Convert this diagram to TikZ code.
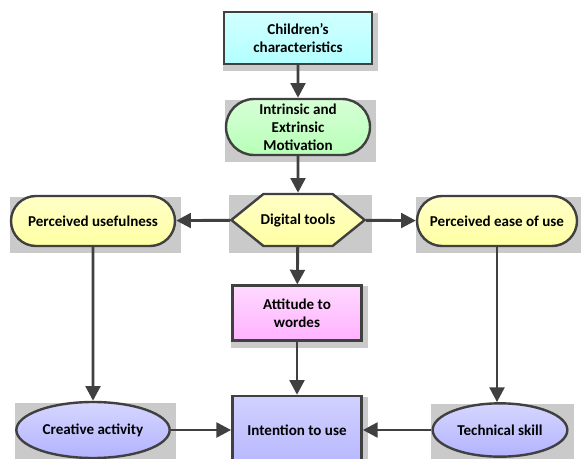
\documentclass[tikz,border=0pt]{standalone}
\usepackage{fontspec}
\setmainfont{Carlito}
\usepackage{tikz}
\usetikzlibrary{
	shapes.misc,
	shapes.symbols,
	shapes.geometric,
	arrows.meta,
	backgrounds}

\definecolor{edgegray}{HTML}{404040}
\definecolor{backgray}{HTML}{CACACA}

\tikzset{
  box/.style={draw=edgegray, line width=1.8pt, align=center,
    font=\fontsize{11.3}{13.6}\selectfont\bfseries, inner sep=2pt},
  procbox/.style={box, rectangle},
  termbox/.style={box, rounded rectangle},
  ovalbox/.style={box, ellipse},
  hexbox/.style={box, signal, signal to=west and east, signal pointer angle=78,
    inner xsep=-5pt},
  link/.style={draw=edgegray, line width=2.2pt,
    -{Triangle[length=11pt,width=11pt]}}
}

% gray backdrop behind a node
\newcommand{\backdrop}[1]{%
  \fill[backgray] ([shift={(0,6)}]#1.west |- #1.south)
    rectangle ([shift={(5,2)}]#1.east |- #1.north);}

\begin{document}
\begin{tikzpicture}[x=0.75pt, y=-0.75pt]
    \useasboundingbox (0,0) rectangle (581,459);

    \node[procbox, minimum width=111pt, minimum height=39pt,
      top color=cyan!18, bottom color=cyan!30] (CC) at (298,38)
      {Children’s\\characteristics};
    \node[termbox, minimum width=112pt, minimum height=42pt,
      top color=green!16, bottom color=green!28] (IM) at (298,127)
      {Intrinsic and\\Extrinsic\\Motivation};
    \node[hexbox, minimum width=100pt, minimum height=39pt,
      top color=yellow!22, bottom color=yellow!36] (DT) at (298,220)
      {Digital tools};
    \node[termbox, minimum width=127pt, minimum height=37.5pt,
      top color=yellow!22, bottom color=yellow!36] (PU) at (93,221)
      {Perceived usefulness};
    \node[termbox, minimum width=124pt, minimum height=37.5pt,
      top color=yellow!22, bottom color=yellow!36] (PE) at (497,221)
      {Perceived ease of use};
    \node[procbox, minimum width=97pt, minimum height=41pt,
      top color=magenta!15, bottom color=magenta!30] (AW) at (297,313)
      {Attitude to\\wordes};
    \node[procbox, minimum width=97pt, minimum height=51pt,
      top color=blue!18, bottom color=blue!28] (IU) at (297,430)
      {Intention to use};
    \node[ovalbox, minimum width=115pt, minimum height=42pt,
      top color=blue!16, bottom color=blue!30] (CA) at (93,430)
      {Creative activity};
    \node[ovalbox, minimum width=101pt, minimum height=40pt,
      top color=blue!16, bottom color=blue!30] (TS) at (500,430)
      {Technical skill};

    \begin{scope}[on background layer]
      \backdrop{CC} \backdrop{IM} \backdrop{DT}
      \backdrop{PU} \backdrop{PE} \backdrop{AW}
      \backdrop{IU} \backdrop{CA} \backdrop{TS}
    \end{scope}

    \draw [link] (CC) to (IM);
    \draw [link] (IM) to (DT);
    \draw [link] (DT) to (PU);
    \draw [link] (DT) to (PE);
    \draw [link] (DT) to (AW);
    \draw [link] (AW) to (IU);
    \draw [link] (PU) to (CA);
    \draw [link] (PE.south) to (PE.south |- TS.north);
    \draw [link] (CA) to (IU);
    \draw [link] (TS) to (IU);
  \end{tikzpicture}
\end{document}
